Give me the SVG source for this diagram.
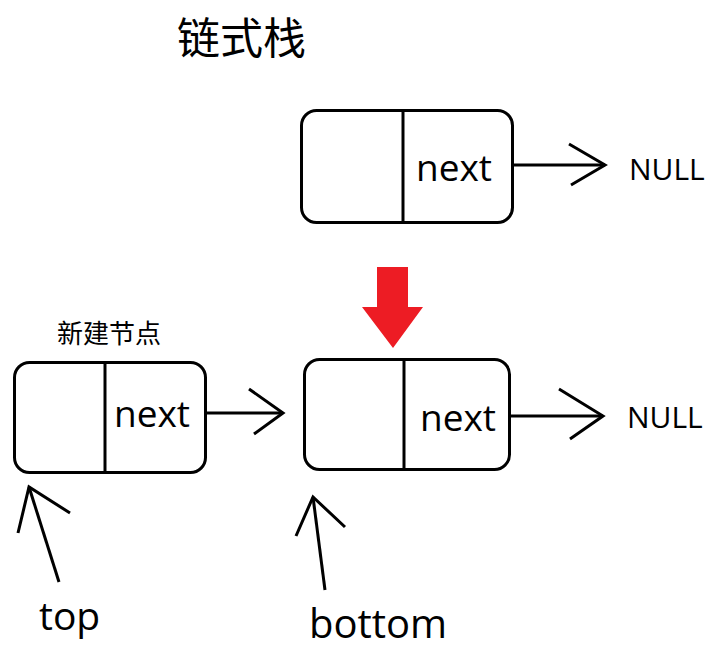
<svg xmlns="http://www.w3.org/2000/svg" width="726" height="660" viewBox="0 0 726 660">
<style>
.box{fill:#fff;stroke:#000;stroke-width:3}
.div{stroke:#000;stroke-width:3}
.ln{fill:none;stroke:#000;stroke-width:3;stroke-linecap:butt;stroke-linejoin:miter}
.lat{font-family:"Open Sans","Liberation Sans",sans-serif;fill:#000}
.cjk{font-family:"Noto Sans CJK SC",sans-serif;fill:#000}
</style>
<rect width="726" height="660" fill="#fff"/>
<text class="cjk" x="177" y="54" font-size="43">链式栈</text>
<g id="node-top">
<rect class="box" x="301.5" y="110.5" width="211" height="112" rx="15"/>
<line class="div" x1="403" y1="110" x2="403" y2="223"/>
<text class="lat" x="416" y="181" font-size="37">next</text>
</g>
<g id="null-top"><text class="lat" x="629" y="180" font-size="30">NULL</text></g>
<g id="red-arrow"><polygon points="377,267 408,267 408,307 423,307 393,348 362,307 377,307" fill="#ED1C24"/></g>
<g id="node-new">
<text class="cjk" x="57" y="343" font-size="26">新建节点</text>
<rect class="box" x="14.5" y="362.5" width="191" height="110" rx="15"/>
<line class="div" x1="105" y1="362" x2="105" y2="473"/>
<text class="lat" x="114" y="427" font-size="37">next</text>
</g>
<g id="node-bottom">
<rect class="box" x="304.5" y="359.5" width="205" height="110" rx="15"/>
<line class="div" x1="404" y1="359" x2="404" y2="470"/>
<text class="lat" x="420" y="431" font-size="37">next</text>
</g>
<g id="null-bottom"><text class="lat" x="627" y="428" font-size="30">NULL</text></g>
<g id="label-top"><text class="lat" x="39" y="630" font-size="39">top</text></g>
<g id="label-bottom"><text class="lat" x="309" y="638" font-size="40">bottom</text></g>
<g id="connectors">
<line class="ln" x1="513" y1="165" x2="605" y2="165"/>
<polyline class="ln" points="569,144 605,165 571,185"/>
<line class="ln" x1="206" y1="413" x2="283" y2="413"/>
<polyline class="ln" points="249,389 283,413 254,434"/>
<line class="ln" x1="510" y1="416" x2="603" y2="416"/>
<polyline class="ln" points="559,389 603,416 570,439"/>
<line class="ln" x1="59" y1="582" x2="29" y2="487"/>
<polyline class="ln" points="18,533 29,487 70,513"/>
<line class="ln" x1="325" y1="590" x2="313" y2="497"/>
<polyline class="ln" points="296,536 313,497 345,527"/>
</g>
</svg>
